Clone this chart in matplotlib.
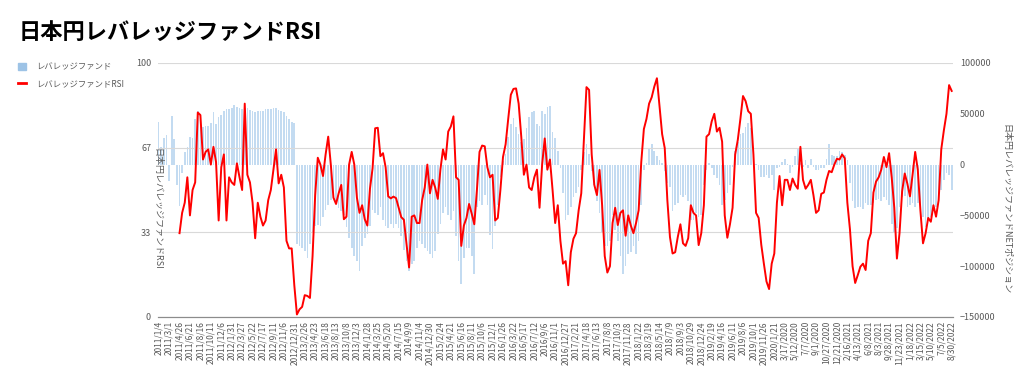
import numpy as np
import matplotlib.pyplot as plt
from matplotlib.patches import Patch
from matplotlib.lines import Line2D

plt.rcParams['font.family'] = ['Noto Sans CJK JP', 'DejaVu Sans']

# === データ (2011/1/4 から 2週ごとのサンプル) ===
tick_labels = [
    "2011/1/4", "2011/3/1", "2011/4/26", "2011/6/21", "2011/8/16", "2011/10/11", "2011/12/6",
    "2012/1/31", "2012/3/27", "2012/5/22", "2012/7/17", "2012/9/11", "2012/11/6", "2012/12/31",
    "2013/2/26", "2013/4/23", "2013/6/18", "2013/8/13", "2013/10/8", "2013/12/3",
    "2014/1/28", "2014/3/25", "2014/5/20", "2014/7/15", "2014/9/9", "2014/11/4", "2014/12/30",
    "2015/2/24", "2015/4/21", "2015/6/16", "2015/8/11", "2015/10/6", "2015/12/1",
    "2016/1/26", "2016/3/22", "2016/5/17", "2016/7/12", "2016/9/6", "2016/11/1", "2016/12/27",
    "2017/2/21", "2017/4/18", "2017/6/13", "2017/8/8", "2017/10/3", "2017/11/28",
    "2018/1/22", "2018/3/19", "2018/5/14", "2018/7/9", "2018/9/3", "2018/10/29", "2018/12/24",
    "2019/2/19", "2019/4/16", "2019/6/11", "2019/8/6", "2019/10/1", "2019/11/26",
    "2020/1/21", "3/17/2020", "5/12/2020", "7/7/2020", "9/1/2020", "10/27/2020", "12/21/2020",
    "2/16/2021", "4/13/2021", "6/8/2021", "8/3/2021", "9/28/2021", "11/23/2021",
    "1/18/2022", "3/15/2022", "5/10/2022", "7/5/2022", "8/30/2022",
]

# RSI (左軸), 最初の8サンプルは値なし
rsi = [np.nan] * 8 + [
    33, 41, 45, 55, 40, 50, 53, 80.5, 79.5, 62,
    65, 66, 60, 67, 61, 38, 59, 64, 38, 55,
    53, 52, 60.5, 55, 50, 84, 56, 53, 45, 31,
    45, 39.5, 36, 38, 46, 50, 58, 66, 52.6, 56,
    51, 30, 27, 27, 12.5, 1, 3, 4, 8.6, 8.3,
    7.5, 24, 48, 62.7, 60, 55.5, 64, 71, 60, 47,
    44.5, 48.7, 52, 38.5, 39.5, 60, 65, 60, 47, 41,
    44, 38.5, 36, 50.5, 58.5, 74.3, 74.5, 63.3, 64.5, 59,
    47.5, 46.7, 47.4, 46.8, 43, 39.3, 38.3, 29, 19.5, 39.5,
    40, 37, 37, 46, 51, 60, 48.7, 54, 51, 46.5,
    58, 66, 62, 73, 75, 79, 55, 54, 28, 36,
    39, 44.5, 40.7, 36.5, 50, 65, 67.5, 67.2, 59, 55,
    56, 38, 39, 50, 63, 68, 78, 87.5, 89.8, 90,
    84, 71, 56, 60, 51, 50, 55, 58, 43, 60,
    70.3, 58, 62, 50, 37, 44, 30, 21, 22, 12.5,
    25.5, 30.8, 33, 42, 48.7, 70, 90.5, 89.4, 64, 52,
    48, 57.9, 44, 24, 17.5, 20, 37, 43, 36.2, 41,
    42, 32, 40, 36, 33, 37, 42, 61, 74, 78,
    84, 86.5, 90.7, 94, 83, 72, 66.5, 46, 31.5, 25,
    25.5, 31.5, 36.5, 29, 28, 31, 44, 41, 40, 28.3,
    33, 44, 71, 72, 77, 80, 73, 74.5, 69, 40,
    31.2, 36.5, 43, 64, 69.7, 78, 87, 85, 81, 80,
    64, 41, 39, 28.5, 21, 14, 11, 21, 25, 45,
    55.5, 44, 54, 54, 50, 54.5, 52, 50.5, 67, 54,
    50.5, 52, 54, 48, 41, 42, 48.5, 49, 54, 57.5,
    57, 60, 62.3, 62, 64, 62.5, 45, 34.5, 20, 13.4,
    16.5, 19.8, 21, 18.5, 30, 33, 49, 53.3, 55, 58,
    63, 59, 64.5, 55, 43, 23, 33, 49.5, 56.5, 52.5,
    47.5, 56, 65, 58, 42, 29, 33, 39, 37.5, 44,
    39.5, 46, 66, 73.5, 80, 91.3, 89,
]

# NETポジション (右軸, 千枚単位)
net_k = [
    42, 17, 26, 29, -16, 48, 25, -20, -41, -8,
    12, 17, 27, 26, 45, 53, 43, 37, 38, 38,
    41, 52, 40, 47, 49, 53, 55, 55, 56, 59,
    57, 56, 55, 56, 56, 54, 53, 52, 53, 53,
    53, 55, 55, 55, 56, 56, 54, 53, 52, 48,
    45, 42, 41, -78, -80, -82, -85, -92, -78, -66,
    -60, -59, -60, -52, -45, -40, -35, -29, -38, -43,
    -46, -50, -61, -72, -82, -90, -95, -105, -80, -72,
    -68, -60, -45, -48, -50, -42, -55, -60, -62, -58,
    -62, -58, -62, -70, -84, -95, -105, -98, -95, -82,
    -75, -78, -82, -85, -88, -92, -85, -68, -58, -48,
    -42, -50, -55, -46, -70, -95, -118, -92, -82, -82,
    -90, -108, -42, -36, -40, -30, -40, -69, -83, -60,
    -40, -12, 4, 10, 27, 40, 46, 37, 30, 22,
    25, 36, 47, 52, 53, 40, 38, 53, 50, 57,
    58, 32, 26, 13, -3, -28, -55, -50, -42, -32,
    -28, -22, -5, 12, 20, 10, -6, -20, -36, -48,
    -66, -80, -80, -75, -50, -64, -75, -90, -108, -100,
    -88, -86, -80, -88, -75, -40, -5, 2, 16, 20,
    13, 8, 5, 2, -6, -18, -22, -46, -40, -38,
    -30, -32, -30, -36, -55, -55, -48, -52, -50, -20,
    -5, 2, -3, -10, -13, -20, -40, -35, -28, -20,
    -2, 13, 22, 30, 31, 37, 41, 36, 10, 1,
    -5, -12, -12, -10, -13, -10, -25, -3, -2, 3,
    6, 1, -8, -2, 8, 15, 2, -2, 5, -3,
    6, -2, -5, -5, -3, -3, 6, 20, 9, 8,
    8, 13, 12, 9, 5, -18, -36, -43, -42, -42,
    -44, -38, -40, -40, -38, -35, -34, -36, -32, -35,
    -40, -58, -67, -62, -42, -32, -31, -42, -40, -38,
    -42, -38, -42, -52, -61, -55, -52, -46, -42, -36,
    -25, -15, -8, -10, -25,
]

weeks = np.arange(len(net_k)) * 2          # 週番号 (2週ごと)
net = np.array(net_k) * 1000

# === 描画 ===
fig = plt.figure(figsize=(10.24, 3.8), dpi=100)
ax_bar = fig.add_axes([158 / 1024, 1 - 317 / 380, 795 / 1024, 254 / 380])
ax_rsi = ax_bar.twinx()

txt = '#595959'

ax_bar.bar(weeks, net, width=1.25, color='#c3dbf1', linewidth=0)
ax_bar.set_ylim(-150000, 100000)
ax_bar.set_yticks(np.arange(-150000, 100001, 50000))
ax_bar.yaxis.tick_right()
ax_bar.tick_params(axis='y', labelsize=6.5, colors=txt, length=0, pad=5)

ax_rsi.plot(weeks[:len(rsi)], rsi, color='#ff0000', lw=1.4)
ax_rsi.set_ylim(0, 100)
ax_rsi.set_yticks([0, 100 / 3, 200 / 3, 100])
ax_rsi.set_yticklabels(['0', '33', '67', '100'])
ax_rsi.yaxis.tick_left()
ax_rsi.tick_params(axis='y', labelsize=6.5, colors=txt, length=0, pad=5)
ax_rsi.grid(axis='y', color='#d9d9d9', lw=0.8)

ax_bar.set_xlim(-0.5, 609)
ax_bar.set_xticks(np.arange(len(tick_labels)) * 8)
ax_bar.set_xticklabels(tick_labels, rotation=90, fontsize=6, color=txt)
ax_bar.tick_params(axis='x', length=0, pad=3)

for a in (ax_bar, ax_rsi):
    for s in ('top', 'left', 'right'):
        a.spines[s].set_visible(False)
    a.spines['bottom'].set_color('#8c8c8c')

fig.text(0.153, 0.45, '日本円レバレッジファンドRSI', rotation=270,
         fontsize=6.5, color=txt, ha='center', va='center')
fig.text(0.982, 0.45, '日本円レバレッジファンドNETポジション', rotation=270,
         fontsize=6.5, color=txt, ha='center', va='center')

fig.text(0.018, 0.915, '日本円レバレッジファンドRSI', fontsize=16,
         fontweight='bold', ha='left', va='center')

handles = [Patch(color='#9dc3e6'),
           Line2D([], [], color='#ff0000', lw=2)]
fig.legend(handles, ['レバレッジファンド', 'レバレッジファンドRSI'],
           loc='upper left', bbox_to_anchor=(0.01, 0.855), frameon=False,
           fontsize=6, labelcolor=txt, handlelength=1.0, handleheight=0.9,
           labelspacing=0.9, handletextpad=1.2)

fig.savefig('out.png', dpi=100)
